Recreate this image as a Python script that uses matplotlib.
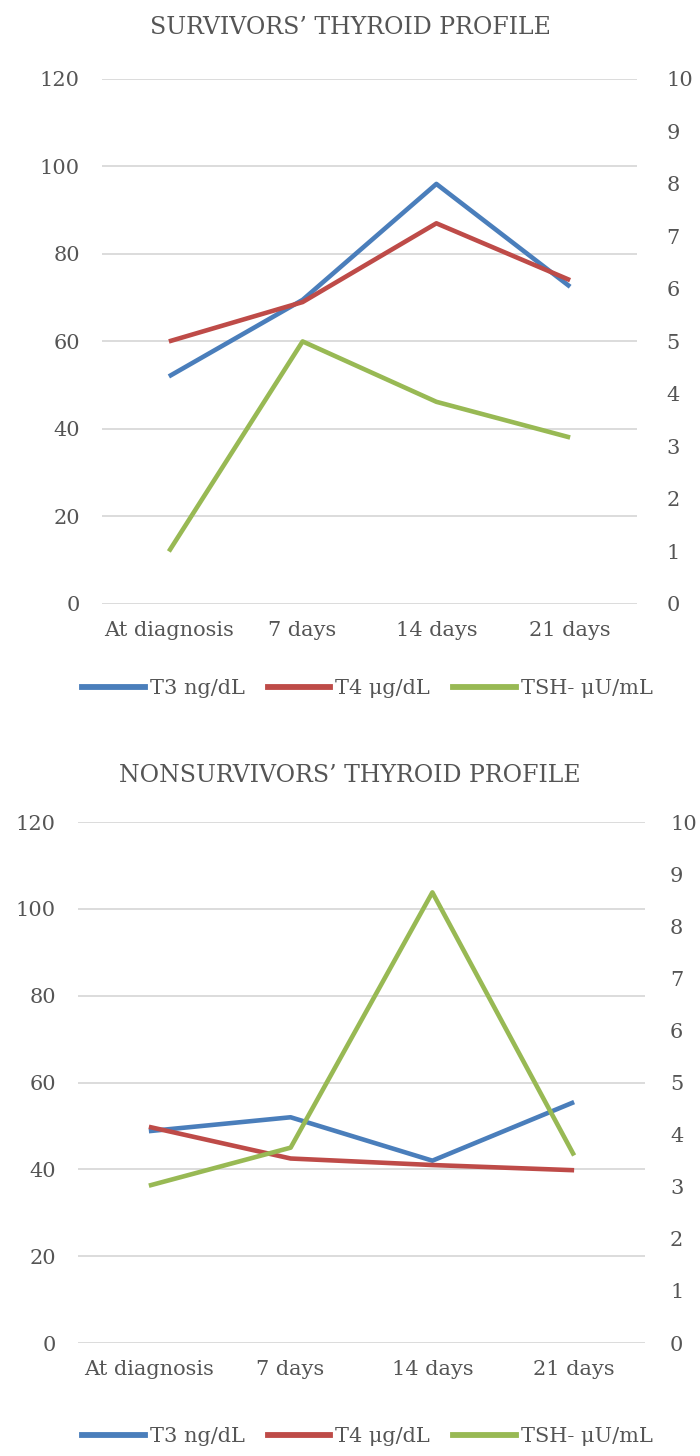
import matplotlib
matplotlib.use("Agg")
import matplotlib.pyplot as plt
from matplotlib.lines import Line2D

categories = ["At diagnosis", "7 days", "14 days", "21 days"]

surv_t3 = [52, 69.5, 96, 72.5]
surv_t4 = [60, 69, 87, 74]
surv_tsh = [1.0, 5.0, 3.85, 3.17]

nonsurv_t3 = [48.8, 52, 42, 55.5]
nonsurv_t4 = [49.8, 42.5, 41, 39.8]
nonsurv_tsh = [3.02, 3.75, 8.65, 3.6]

left_ticks = [0, 20, 40, 60, 80, 100, 120]
right_ticks = list(range(0, 11))
series_labels = ["T3 ng/dL", "T4 \u03bcg/dL", "TSH- \u03bcU/mL"]

BLUE = "#4A7EBB"
RED = "#BE4B48"
GREEN = "#98B954"
GRID = "#D9D9D9"
TXT = "#555555"

plt.rcParams["font.family"] = ["DejaVu Serif"]

fig = plt.figure(figsize=(7, 14.56), dpi=100)


def panel(rect, title, t3, t4, tsh, title_y, legend_x, legend_y, lab_left_pad, lab_right_pad):
    ax = fig.add_axes(rect)
    x = list(range(len(categories)))
    ax.set_xlim(-0.5, len(categories) - 0.5)
    ax.set_ylim(0, 120)
    ax.set_yticks(left_ticks)
    for v in left_ticks:
        ax.axhline(v, color=GRID, lw=1.3, zorder=0)
    ax.plot(x, t3, color=BLUE, lw=3.3, zorder=3, solid_capstyle="butt")
    ax.plot(x, t4, color=RED, lw=3.3, zorder=3, solid_capstyle="butt")
    ax.set_xticks(x)
    ax.set_xticklabels(categories, fontsize=15, color=TXT)
    ax.tick_params(axis="both", length=0, colors=TXT, labelsize=15)
    ax.tick_params(axis="y", pad=lab_left_pad)
    ax.tick_params(axis="x", pad=12)
    for s in ax.spines.values():
        s.set_visible(False)
    ax2 = ax.twinx()
    ax2.set_ylim(0, 10)
    ax2.set_yticks(right_ticks)
    ax2.plot(x, tsh, color=GREEN, lw=3.3, zorder=3, solid_capstyle="butt")
    ax2.tick_params(axis="y", length=0, colors=TXT, labelsize=15, pad=lab_right_pad)
    for s in ax2.spines.values():
        s.set_visible(False)
    fig.text(0.5, title_y, title, ha="center", va="center", fontsize=17, color=TXT)
    handles = [Line2D([0], [0], color=c, lw=4.2) for c in (BLUE, RED, GREEN)]
    fig.legend(handles, series_labels, loc="center", bbox_to_anchor=(legend_x, legend_y),
               ncol=3, frameon=False, fontsize=15, handlelength=3.0,
               handletextpad=0.25, columnspacing=1.1, labelcolor=TXT)


panel([102 / 700, 0.5852, 535 / 700, 0.3606], "SURVIVORS\u2019 THYROID PROFILE",
      surv_t3, surv_t4, surv_tsh, 1 - 28 / 1456, 0.525, 1 - 689 / 1456, 16, 21)
panel([78 / 700, 0.0776, 567 / 700, 0.3578], "NONSURVIVORS\u2019 THYROID PROFILE",
      nonsurv_t3, nonsurv_t4, nonsurv_tsh, 1 - 776 / 1456, 0.525, 1 - 1437 / 1456, 16, 18)

fig.savefig("out.png", dpi=100)
